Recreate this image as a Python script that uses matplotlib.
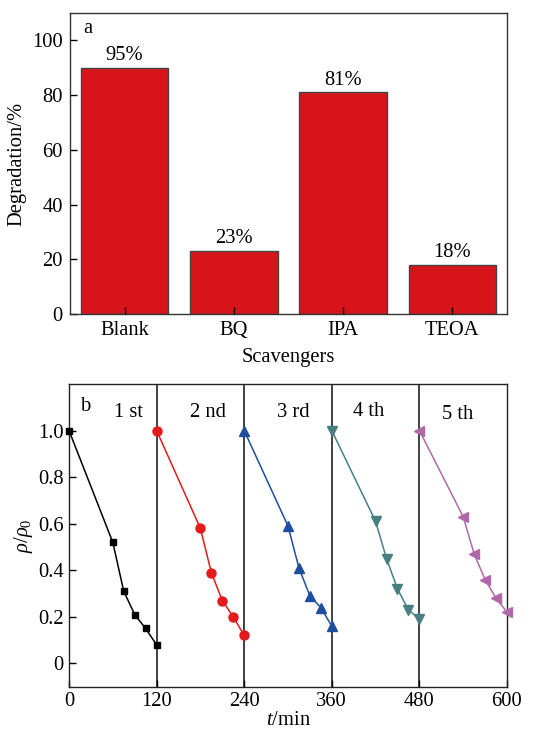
import matplotlib
matplotlib.use("Agg")
import matplotlib.pyplot as plt

plt.rcParams['font.family'] = ['Liberation Serif', 'DejaVu Serif']
plt.rcParams['mathtext.fontset'] = 'custom'
plt.rcParams['mathtext.rm'] = 'Liberation Serif'
plt.rcParams['mathtext.it'] = 'Liberation Serif:italic'
plt.rcParams['font.size'] = 14.8

# ---- data panel a ----
categories = ["Blank", "BQ", "IPA", "TEOA"]
degradation = [90, 23, 81, 18]
bar_labels = ["95%", "23%", "81%", "18%"]

# ---- data panel b ----
t1 = [0, 60, 75, 90, 105, 120]
r1 = [1.0, 0.52, 0.31, 0.21, 0.15, 0.08]
t2 = [120, 180, 195, 210, 225, 240]
r2 = [1.0, 0.58, 0.39, 0.27, 0.20, 0.12]
t3 = [240, 300, 315, 330, 345, 360]
r3 = [1.0, 0.59, 0.41, 0.29, 0.24, 0.16]
t4 = [360, 420, 435, 450, 465, 480]
r4 = [1.0, 0.61, 0.45, 0.32, 0.23, 0.19]
t5 = [480, 540, 555, 570, 585, 600]
r5 = [1.0, 0.63, 0.47, 0.36, 0.28, 0.22]
cycle_labels = ["1 st", "2 nd", "3 rd", "4 th", "5 th"]
cycle_label_t = [81, 190, 307, 410, 533]
cycle_label_y = [1.076, 1.076, 1.076, 1.082, 1.07]
dividers = [120, 240, 360, 480]
xticks_b = [0, 120, 240, 360, 480, 600]
yticks_b = [0, 0.2, 0.4, 0.6, 0.8, 1.0]
yticklabels_b = ["0", "0.2", "0.4", "0.6", "0.8", "1.0"]

fig = plt.figure(figsize=(5.42, 7.29), dpi=100)

# ---------------- panel a ----------------
ax1 = fig.add_axes([0.129, 0.5693, 0.8064, 0.4129])
xs = list(range(len(categories)))
ax1.bar(xs, degradation, width=0.8, color='#d7141a', edgecolor='#444444', linewidth=1.0)
for x, v, lab in zip(xs, degradation, bar_labels):
    ax1.annotate(lab, (x, v), xytext=(0, 2), textcoords='offset points',
                 ha='center', va='bottom')
ax1.set_xlim(-0.5, 3.5)
ax1.set_ylim(0, 110)
ax1.set_xticks(xs)
ax1.set_xticklabels(categories)
ax1.set_yticks([0, 20, 40, 60, 80, 100])
ax1.tick_params(direction='in', length=5, width=1, pad=5)
ax1.set_ylabel("Degradation/%", labelpad=4)
ax1.set_xlabel("Scavengers", labelpad=6)
ax1.text(0.041, 0.95, "a", transform=ax1.transAxes, ha='center', va='center')
for s in ax1.spines.values():
    s.set_color('#333333')
    s.set_linewidth(1.0)

# ---------------- panel b ----------------
ax2 = fig.add_axes([0.1273, 0.058, 0.8081, 0.4153])
for xv in dividers:
    ax2.axvline(xv, color='#333333', linewidth=1.3, zorder=1)
ax2.plot(t1, r1, color='black', marker='s', ms=5, lw=1.1, zorder=3, clip_on=False)
ax2.plot(t2, r2, color='#e41a1c', marker='o', ms=6.5, lw=1.1, zorder=3, clip_on=False)
ax2.plot(t3, r3, color='#1f4e9e', marker='^', ms=7, lw=1.1, zorder=3, clip_on=False)
ax2.plot(t4, r4, color='#4a7f82', marker='v', ms=7, lw=1.1, zorder=3, clip_on=False)
ax2.plot(t5, r5, color='#b069a8', marker='<', ms=7, lw=1.1, zorder=3, clip_on=False)
for lab, xt, yt in zip(cycle_labels, cycle_label_t, cycle_label_y):
    ax2.text(xt, yt, lab, ha='center', va='center')
ax2.set_xlim(0, 600)
ax2.set_ylim(-0.1, 1.2)
ax2.set_xticks(xticks_b)
ax2.set_yticks(yticks_b)
ax2.set_yticklabels(yticklabels_b)
ax2.tick_params(direction='in', length=5, width=1, pad=4)
ax2.set_ylabel(r"$\rho/\rho_0$", labelpad=2)
ax2.set_xlabel(r"$t$/min", labelpad=0)
ax2.text(0.039, 0.927, "b", transform=ax2.transAxes, ha='center', va='center')
for s in ax2.spines.values():
    s.set_color('#222222')
    s.set_linewidth(1.0)

fig.savefig("out.png", dpi=100)
